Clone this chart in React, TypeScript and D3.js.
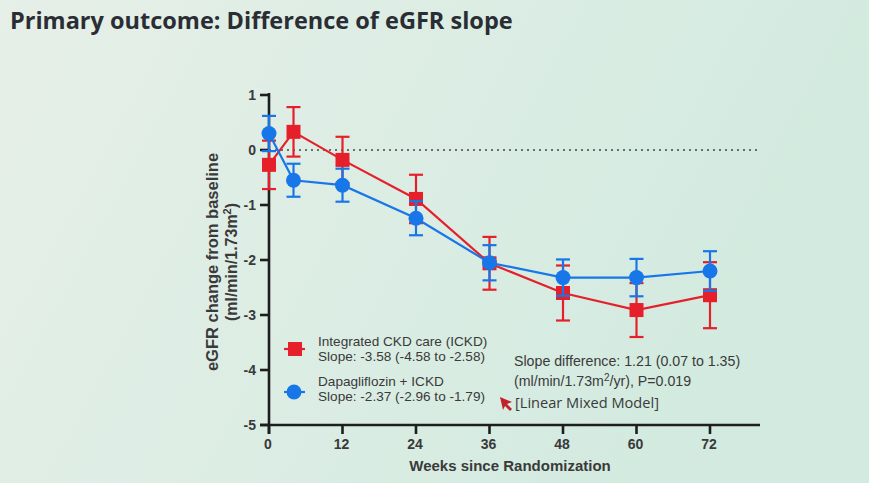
import React from "react";
import * as d3 from "d3";

const weeks = [0, 4, 12, 24, 36, 48, 60, 72];
const ickdMean = [-0.27, 0.33, -0.18, -0.89, -2.06, -2.6, -2.91, -2.64];
const ickdErr = [0.44, 0.45, 0.42, 0.44, 0.48, 0.5, 0.49, 0.6];
const dapaMean = [0.3, -0.55, -0.64, -1.24, -2.05, -2.32, -2.32, -2.2];
const dapaErr = [0.32, 0.3, 0.3, 0.31, 0.32, 0.33, 0.34, 0.36];
const xTicks = [0, 12, 24, 36, 48, 60, 72];
const yTicks = [1, 0, -1, -2, -3, -4, -5];

const W = 869;
const H = 483;
const RED = "#e5202b";
const BLUE = "#1877e8";
const TXT = "#3a3a3a";

export default function App() {
  const x = d3.scaleLinear().domain([0, 72]).range([269, 710]);
  const y = d3.scaleLinear().domain([-5, 1]).range([425, 95]);
  const line = d3
    .line<[number, number]>()
    .x((d) => x(d[0]))
    .y((d) => y(d[1]));
  const red = weeks.map((w, i) => [w, ickdMean[i]] as [number, number]);
  const blue = weeks.map((w, i) => [w, dapaMean[i]] as [number, number]);
  const sans = "'Liberation Sans', Arial, sans-serif";

  const errBars = (means: number[], errs: number[], color: string) =>
    weeks.map((w, i) => {
      const cx = x(w);
      const y1 = y(means[i] + errs[i]);
      const y2 = y(means[i] - errs[i]);
      return (
        <g key={i} stroke={color} strokeWidth={2.2}>
          <line x1={cx} x2={cx} y1={y1} y2={y2} />
          <line x1={cx - 7} x2={cx + 7} y1={y1} y2={y1} />
          <line x1={cx - 7} x2={cx + 7} y1={y2} y2={y2} />
        </g>
      );
    });

  return (
    <svg
      width={W}
      height={H}
      style={{ position: "absolute", left: 0, top: 0, display: "block" }}
    >
      <defs>
        <linearGradient id="bg" x1="0" y1="0" x2="1" y2="0.3">
          <stop offset="0" stopColor="#e6efe8" />
          <stop offset="0.5" stopColor="#dcede4" />
          <stop offset="1" stopColor="#d2eadf" />
        </linearGradient>
      </defs>
      <rect width={W} height={H} fill="url(#bg)" />
      <text
        x={10}
        y={29}
        fontFamily="'Open Sans', sans-serif"
        fontWeight={700}
        fontSize={23.5}
        fill="#2a2d33"
      >
        Primary outcome: Difference of eGFR slope
      </text>

      {/* zero dotted line */}
      <line
        x1={x(0)}
        x2={757}
        y1={y(0)}
        y2={y(0)}
        stroke="#444"
        strokeWidth={1.6}
        strokeDasharray="2 4"
      />

      {/* axes */}
      <line x1={x(0)} x2={x(0)} y1={y(1) - 2} y2={y(-5) + 9} stroke="#1e1e1e" strokeWidth={2.6} />
      <line x1={x(0) - 9} x2={760} y1={y(-5)} y2={y(-5)} stroke="#1e1e1e" strokeWidth={2.6} />
      {yTicks.map((t) => (
        <g key={t}>
          <line x1={x(0) - 9} x2={x(0)} y1={y(t)} y2={y(t)} stroke="#1e1e1e" strokeWidth={2.6} />
          <text
            x={x(0) - 13}
            y={y(t) + 5}
            textAnchor="end"
            fontFamily={sans}
            fontWeight={700}
            fontSize={14}
            fill={TXT}
          >
            {t}
          </text>
        </g>
      ))}
      {xTicks.map((t) => (
        <g key={t}>
          <line x1={x(t)} x2={x(t)} y1={y(-5)} y2={y(-5) + 9} stroke="#1e1e1e" strokeWidth={2.6} />
          <text
            x={x(t) - 1}
            y={y(-5) + 24}
            textAnchor="middle"
            fontFamily={sans}
            fontWeight={700}
            fontSize={14}
            fill={TXT}
          >
            {t}
          </text>
        </g>
      ))}
      <text
        x={510}
        y={471}
        textAnchor="middle"
        fontFamily={sans}
        fontWeight={700}
        fontSize={15}
        fill={TXT}
      >
        Weeks since Randomization
      </text>
      <g transform="translate(218,262) rotate(-90)">
        <text
          textAnchor="middle"
          fontFamily={sans}
          fontWeight={700}
          fontSize={16.5}
          fill={TXT}
        >
          eGFR change from baseline
        </text>
        <text
          y={19}
          textAnchor="middle"
          fontFamily={sans}
          fontWeight={700}
          fontSize={16}
          fill={TXT}
        >
          (ml/min/1.73m<tspan dy={-6} fontSize={11}>2</tspan>
          <tspan dy={6}>)</tspan>
        </text>
      </g>

      {/* series */}
      <path d={line(red) || ""} fill="none" stroke={RED} strokeWidth={2.2} />
      {errBars(ickdMean, ickdErr, RED)}
      {red.map((d, i) => (
        <rect key={i} x={x(d[0]) - 7} y={y(d[1]) - 7} width={14} height={14} fill={RED} />
      ))}
      <path d={line(blue) || ""} fill="none" stroke={BLUE} strokeWidth={2.2} />
      {errBars(dapaMean, dapaErr, BLUE)}
      {blue.map((d, i) => (
        <circle key={i} cx={x(d[0])} cy={y(d[1])} r={7.5} fill={BLUE} />
      ))}

      {/* legend */}
      <g fontFamily={sans} fontSize={13.6} fill={TXT}>
        <line x1={284} x2={305} y1={349} y2={349} stroke={RED} strokeWidth={2.2} />
        <rect x={288} y={342} width={14} height={14} fill={RED} />
        <text x={318} y={346}>Integrated CKD care (ICKD)</text>
        <text x={318} y={361}>Slope: -3.58 (-4.58 to -2.58)</text>
        <line x1={284} x2={305} y1={392} y2={392} stroke={BLUE} strokeWidth={2.2} />
        <circle cx={294} cy={392} r={7.5} fill={BLUE} />
        <text x={318} y={386}>Dapagliflozin + ICKD</text>
        <text x={318} y={401}>Slope: -2.37 (-2.96 to -1.79)</text>

        <text x={514} y={366} fontSize={14.2}>Slope difference: 1.21 (0.07 to 1.35)</text>
        <text x={514} y={386} fontSize={14.2}>
          (ml/min/1.73m<tspan dy={-5} fontSize={10}>2</tspan>
          <tspan dy={5}>/yr), P=0.019</tspan>
        </text>
        <text x={515} y={408} fontFamily="'Open Sans', sans-serif" fontSize={14.6}>
          [Linear Mixed Model]
        </text>
      </g>
      <path
        d="M500,397 L512,402 L507,404 L512,409 L510,411 L505,406 L503,410 Z"
        fill="#c0242a"
      />
    </svg>
  );
}
